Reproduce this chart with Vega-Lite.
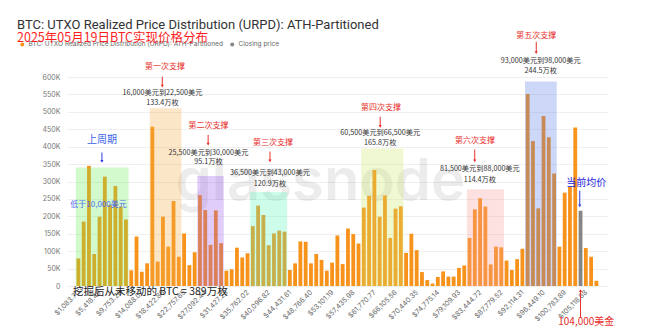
{
  "$schema": "https://vega.github.io/schema/vega-lite/v6.json",
  "width": 541,
  "height": 209,
  "autosize": {"type": "none"},
  "padding": {"left": 67, "top": 77, "right": 42, "bottom": 43},
  "background": "white",
  "config": {"view": {"stroke": null}, "font": "Inter", "axis": {"labelOverlap": false}, "axisX": {"labelOverlap": false}},
  "title": {
    "text": "BTC: UTXO Realized Price Distribution (URPD): ATH-Partitioned",
    "subtitle": "2025年05月19日BTC实现价格分布",
    "anchor": "start",
    "frame": "group",
    "dx": -50,
    "offset": -13,
    "font": "Roboto",
    "fontSize": 13,
    "fontWeight": "normal",
    "color": "#333333",
    "subtitleFont": "Noto Sans CJK SC",
    "subtitleFontSize": 12.5,
    "subtitleColor": "#ff1f1f",
    "subtitlePadding": 0
  },
  "datasets": {
    "bars": [
      {"price": 1083.70, "v": 79000, "s": "urpd"},
      {"price": 2167.40, "v": 185000, "s": "urpd"},
      {"price": 3251.09, "v": 345000, "s": "urpd"},
      {"price": 4334.79, "v": 92000, "s": "urpd"},
      {"price": 5418.49, "v": 199000, "s": "urpd"},
      {"price": 6502.19, "v": 314000, "s": "urpd"},
      {"price": 7585.88, "v": 233000, "s": "urpd"},
      {"price": 8669.58, "v": 287000, "s": "urpd"},
      {"price": 9753.28, "v": 228000, "s": "urpd"},
      {"price": 10836.98, "v": 191000, "s": "urpd"},
      {"price": 11920.68, "v": 45000, "s": "urpd"},
      {"price": 13004.37, "v": 142000, "s": "urpd"},
      {"price": 14088.07, "v": 41000, "s": "urpd"},
      {"price": 15171.77, "v": 65000, "s": "urpd"},
      {"price": 16255.47, "v": 457000, "s": "urpd"},
      {"price": 17339.16, "v": 70000, "s": "urpd"},
      {"price": 18422.86, "v": 199000, "s": "urpd"},
      {"price": 19506.56, "v": 113000, "s": "urpd"},
      {"price": 20590.26, "v": 244000, "s": "urpd"},
      {"price": 21673.95, "v": 84000, "s": "urpd"},
      {"price": 22757.65, "v": 151000, "s": "urpd"},
      {"price": 23841.35, "v": 60000, "s": "urpd"},
      {"price": 24925.05, "v": 97000, "s": "urpd"},
      {"price": 26008.75, "v": 261000, "s": "urpd"},
      {"price": 27092.44, "v": 218000, "s": "urpd"},
      {"price": 28176.14, "v": 118000, "s": "urpd"},
      {"price": 29259.84, "v": 217000, "s": "urpd"},
      {"price": 30343.54, "v": 123000, "s": "urpd"},
      {"price": 31427.23, "v": 44000, "s": "urpd"},
      {"price": 32510.93, "v": 48000, "s": "urpd"},
      {"price": 33594.63, "v": 110000, "s": "urpd"},
      {"price": 34678.33, "v": 82000, "s": "urpd"},
      {"price": 35762.02, "v": 94000, "s": "urpd"},
      {"price": 36845.72, "v": 172000, "s": "urpd"},
      {"price": 37929.42, "v": 231000, "s": "urpd"},
      {"price": 39013.12, "v": 204000, "s": "urpd"},
      {"price": 40096.82, "v": 117000, "s": "urpd"},
      {"price": 41180.51, "v": 151000, "s": "urpd"},
      {"price": 42264.21, "v": 159000, "s": "urpd"},
      {"price": 43347.91, "v": 156000, "s": "urpd"},
      {"price": 44431.61, "v": 46000, "s": "urpd"},
      {"price": 45515.30, "v": 65000, "s": "urpd"},
      {"price": 46599.00, "v": 128000, "s": "urpd"},
      {"price": 47682.70, "v": 127000, "s": "urpd"},
      {"price": 48766.40, "v": 65000, "s": "urpd"},
      {"price": 49850.09, "v": 92000, "s": "urpd"},
      {"price": 50933.79, "v": 75000, "s": "urpd"},
      {"price": 52017.49, "v": 44000, "s": "urpd"},
      {"price": 53101.19, "v": 67000, "s": "urpd"},
      {"price": 54184.89, "v": 145000, "s": "urpd"},
      {"price": 55268.58, "v": 63000, "s": "urpd"},
      {"price": 56352.28, "v": 165000, "s": "urpd"},
      {"price": 57435.98, "v": 149000, "s": "urpd"},
      {"price": 58519.68, "v": 122000, "s": "urpd"},
      {"price": 59603.37, "v": 225000, "s": "urpd"},
      {"price": 60687.07, "v": 259000, "s": "urpd"},
      {"price": 61770.77, "v": 333000, "s": "urpd"},
      {"price": 62854.47, "v": 199000, "s": "urpd"},
      {"price": 63938.17, "v": 260000, "s": "urpd"},
      {"price": 65021.86, "v": 138000, "s": "urpd"},
      {"price": 66105.56, "v": 222000, "s": "urpd"},
      {"price": 67189.26, "v": 229000, "s": "urpd"},
      {"price": 68272.96, "v": 95000, "s": "urpd"},
      {"price": 69356.65, "v": 150000, "s": "urpd"},
      {"price": 70440.35, "v": 103000, "s": "urpd"},
      {"price": 71524.05, "v": 40000, "s": "urpd"},
      {"price": 72607.75, "v": 17000, "s": "urpd"},
      {"price": 73691.45, "v": 7000, "s": "urpd"},
      {"price": 74775.14, "v": 26000, "s": "urpd"},
      {"price": 75858.84, "v": 42000, "s": "urpd"},
      {"price": 76942.54, "v": 27000, "s": "urpd"},
      {"price": 78026.24, "v": 27000, "s": "urpd"},
      {"price": 79109.93, "v": 52000, "s": "urpd"},
      {"price": 80193.63, "v": 59000, "s": "urpd"},
      {"price": 81277.33, "v": 138000, "s": "urpd"},
      {"price": 82361.03, "v": 220000, "s": "urpd"},
      {"price": 83444.72, "v": 252000, "s": "urpd"},
      {"price": 84528.42, "v": 228000, "s": "urpd"},
      {"price": 85612.12, "v": 62000, "s": "urpd"},
      {"price": 86695.82, "v": 113000, "s": "urpd"},
      {"price": 87779.52, "v": 111000, "s": "urpd"},
      {"price": 88863.21, "v": 73000, "s": "urpd"},
      {"price": 89946.91, "v": 46000, "s": "urpd"},
      {"price": 91030.61, "v": 77000, "s": "urpd"},
      {"price": 92114.31, "v": 107000, "s": "urpd"},
      {"price": 93198.00, "v": 551000, "s": "urpd"},
      {"price": 94281.70, "v": 416000, "s": "urpd"},
      {"price": 95365.40, "v": 223000, "s": "urpd"},
      {"price": 96449.10, "v": 488000, "s": "urpd"},
      {"price": 97532.80, "v": 427000, "s": "urpd"},
      {"price": 98616.50, "v": 323000, "s": "urpd"},
      {"price": 99700.19, "v": 113000, "s": "urpd"},
      {"price": 100783.89, "v": 268000, "s": "urpd"},
      {"price": 101867.59, "v": 285000, "s": "urpd"},
      {"price": 102951.28, "v": 455000, "s": "urpd"},
      {"price": 104034.98, "v": 216000, "s": "close"},
      {"price": 105118.68, "v": 109000, "s": "urpd"},
      {"price": 106202.38, "v": 84000, "s": "urpd"},
      {"price": 107286.07, "v": 15000, "s": "urpd"},
      {"price": 108369.77, "v": 0, "s": "urpd"}
    ],
    "zones": [
      {"zone": "上周期", "price": 541.85, "end": 11378.83, "v": 340000},
      {"zone": "第一次支撑", "price": 15713.62, "end": 22215.80, "v": 510000},
      {"zone": "第二次支撑", "price": 25466.90, "end": 30885.39, "v": 316000},
      {"zone": "第三次支撑", "price": 36303.87, "end": 43889.76, "v": 270000},
      {"zone": "第四次支撑", "price": 59061.53, "end": 67731.11, "v": 395000},
      {"zone": "第六次支撑", "price": 80735.48, "end": 88321.37, "v": 278000},
      {"zone": "第五次支撑", "price": 92656.16, "end": 99158.34, "v": 587000}
    ],
    "redTitles": [
      {"t": "第一次支撑", "price": 18833, "v": 630000},
      {"t": "第二次支撑", "price": 27748, "v": 460000},
      {"t": "第三次支撑", "price": 40968, "v": 410000},
      {"t": "第四次支撑", "price": 63103, "v": 512000},
      {"t": "第六次支撑", "price": 82382, "v": 416000},
      {"t": "第五次支撑", "price": 94958, "v": 719000}
    ],
    "redArrows": [
      {"price": 18289, "v": 601000, "to": 574000},
      {"price": 27687, "v": 434000, "to": 407000},
      {"price": 40365, "v": 386000, "to": 359000},
      {"price": 62962, "v": 486000, "to": 458000},
      {"price": 82342, "v": 392000, "to": 359000},
      {"price": 94958, "v": 701000, "to": 670000}
    ],
    "blueArrows": [
      {"price": 5914, "v": 383000, "to": 358000},
      {"price": 103872, "v": 274000, "to": 230000}
    ],
    "upArrows": [
      {"price": 104034.98, "v": -92000, "to": -13000}
    ],
    "notes": [
      {"t": "16,000美元到22,500美元", "price": 18329, "v": 553000},
      {"t": "133.4万枚", "price": 18329, "v": 525000},
      {"t": "25,500美元到30,000美元", "price": 27748, "v": 381000},
      {"t": "95.1万枚", "price": 27748, "v": 357000},
      {"t": "36,500美元到43,000美元", "price": 40365, "v": 324000},
      {"t": "120.9万枚", "price": 40365, "v": 293000},
      {"t": "60,500美元到66,500美元", "price": 62962, "v": 438000},
      {"t": "165.8万枚", "price": 62962, "v": 410000},
      {"t": "81,500美元到88,000美元", "price": 83388, "v": 335000},
      {"t": "114.4万枚", "price": 83388, "v": 304000},
      {"t": "93,000美元到98,000美元", "price": 95864, "v": 647000},
      {"t": "244.5万枚", "price": 95864, "v": 618000}
    ],
    "blueBig": [
      {"t": "上周期", "price": 5914, "v": 419000}
    ],
    "blueSmall": [
      {"t": "低于10,000美元", "price": 5209, "v": 233000}
    ],
    "current": [
      {"t": "当前均价", "price": 105220, "v": 295000}
    ],
    "bottomNote": [
      {"t": "挖掘后从未移动的 BTC = 389万枚", "price": -23, "v": -16000}
    ],
    "priceNote": [
      {"t": "104,000美金", "price": 105220, "v": -102500}
    ],
    "mark": [
      {"t": "glassnode", "price": 50687, "v": 247000}
    ]
  },
  "encoding": {
    "x": {"field": "price", "type": "quantitative", "scale": {"domain": [-224, 108641], "nice": false, "zero": false},
      "axis": {
        "values": [1083.70, 5418.49, 9753.28, 14088.07, 18422.86, 22757.65, 27092.44, 31427.23, 35762.02, 40096.82, 44431.61, 48766.40, 53101.19, 57435.98, 61770.77, 66105.56, 70440.35, 74775.14, 79109.93, 83444.72, 87779.52, 92114.31, 96449.10, 100783.89, 105118.68],
        "format": "$,.2f", "labelAngle": -45, "labelAlign": "right", "labelBaseline": "middle",
        "labelFontSize": 7, "labelColor": "#666666", "labelPadding": 5, "ticks": false, "domain": false,
        "grid": false, "title": null, "labelOverlap": false, "labelBound": false, "labelFlush": false
      }},
    "y": {"field": "v", "type": "quantitative", "scale": {"domain": [0, 600000], "nice": false},
      "axis": {
        "values": [0, 50000, 100000, 150000, 200000, 250000, 300000, 350000, 400000, 450000, 500000, 550000, 600000],
        "labelExpr": "datum.value == 0 ? '0' : (datum.value / 1000) + 'K'",
        "title": null, "domain": false, "ticks": false, "labelFontSize": 7, "labelColor": "#777777",
        "labelPadding": 7, "gridColor": "#efefef", "gridWidth": 1, "labelOverlap": false
      }}
  },
  "layer": [
    {
      "data": {"name": "mark"},
      "mark": {"type": "text", "fontSize": 58, "fontWeight": 600, "font": "Inter", "color": "#000000", "opacity": 0.07, "align": "center", "baseline": "alphabetic"},
      "encoding": {"text": {"field": "t"}}
    },
    {
      "data": {"name": "bars"},
      "mark": {"type": "bar", "width": 3.8},
      "encoding": {
        "color": {"field": "s", "type": "nominal",
          "scale": {"domain": ["urpd", "close"], "range": ["#f7931a", "#858585"]},
          "legend": {
            "orient": "none", "legendX": -48, "legendY": -36, "direction": "horizontal", "title": null,
            "labelExpr": "datum.label == 'urpd' ? 'BTC: UTXO Realized Price Distribution (URPD): ATH-Partitioned' : 'Closing price'",
            "labelFontSize": 6.5, "labelColor": "#666666", "symbolType": "circle", "symbolSize": 16, "labelLimit": 400,
            "symbolStrokeWidth": 0, "columnPadding": 6, "labelOffset": 3
          }}
      }
    },
    {
      "data": {"name": "zones"},
      "mark": {"type": "rect", "opacity": 0.3},
      "encoding": {
        "x2": {"field": "end"},
        "y2": {"datum": 0},
        "color": {"field": "zone", "type": "nominal", "legend": null,
          "scale": {"domain": ["上周期", "第一次支撑", "第二次支撑", "第三次支撑", "第四次支撑", "第六次支撑", "第五次支撑"],
            "range": ["#6cf05a", "#f5ac48", "#9b58ee", "#58f5bc", "#cde869", "#f89b9b", "#587ae8"]}}
      }
    },
    {
      "data": {"name": "redArrows"},
      "mark": {"type": "rule", "color": "#e8302c", "strokeWidth": 1},
      "encoding": {"y2": {"field": "to"}}
    },
    {
      "data": {"name": "redArrows"},
      "mark": {"type": "point", "shape": "triangle-down", "filled": true, "size": 10, "color": "#e8302c", "opacity": 1},
      "encoding": {"y": {"field": "to", "type": "quantitative"}}
    },
    {
      "data": {"name": "blueArrows"},
      "mark": {"type": "rule", "color": "#2a3be0", "strokeWidth": 1},
      "encoding": {"y2": {"field": "to"}}
    },
    {
      "data": {"name": "blueArrows"},
      "mark": {"type": "point", "shape": "triangle-down", "filled": true, "size": 10, "color": "#2a3be0", "opacity": 1},
      "encoding": {"y": {"field": "to", "type": "quantitative"}}
    },
    {
      "data": {"name": "upArrows"},
      "mark": {"type": "rule", "color": "#e8302c", "strokeWidth": 1},
      "encoding": {"y2": {"field": "to"}}
    },
    {
      "data": {"name": "upArrows"},
      "mark": {"type": "point", "shape": "triangle-up", "filled": true, "size": 10, "color": "#e8302c", "opacity": 1},
      "encoding": {"y": {"field": "to", "type": "quantitative"}}
    },
    {
      "data": {"name": "redTitles"},
      "mark": {"type": "text", "font": "Noto Sans CJK SC", "fontSize": 8, "color": "#e8302c", "align": "center", "baseline": "middle"},
      "encoding": {"text": {"field": "t"}}
    },
    {
      "data": {"name": "notes"},
      "mark": {"type": "text", "font": "Noto Sans CJK SC", "fontSize": 7.2, "color": "#333333", "align": "center", "baseline": "middle"},
      "encoding": {"text": {"field": "t"}}
    },
    {
      "data": {"name": "blueBig"},
      "mark": {"type": "text", "font": "Noto Sans CJK SC", "fontSize": 10, "color": "#3b63e8", "align": "center", "baseline": "middle"},
      "encoding": {"text": {"field": "t"}}
    },
    {
      "data": {"name": "blueSmall"},
      "mark": {"type": "text", "font": "Noto Sans CJK SC", "fontSize": 8, "color": "#4a6cf0", "align": "center", "baseline": "middle"},
      "encoding": {"text": {"field": "t"}}
    },
    {
      "data": {"name": "current"},
      "mark": {"type": "text", "font": "Noto Sans CJK SC", "fontSize": 10, "color": "#2424e0", "align": "center", "baseline": "middle"},
      "encoding": {"text": {"field": "t"}}
    },
    {
      "data": {"name": "bottomNote"},
      "mark": {"type": "text", "font": "Noto Sans CJK SC", "fontSize": 10.5, "color": "#222222", "align": "left", "baseline": "middle"},
      "encoding": {"text": {"field": "t"}}
    },
    {
      "data": {"name": "priceNote"},
      "mark": {"type": "text", "font": "Noto Sans CJK SC", "fontSize": 10, "color": "#e8302c", "align": "center", "baseline": "middle"},
      "encoding": {"text": {"field": "t"}}
    }
  ],
  "resolve": {"scale": {"color": "independent"}, "legend": {"color": "independent"}}
}
